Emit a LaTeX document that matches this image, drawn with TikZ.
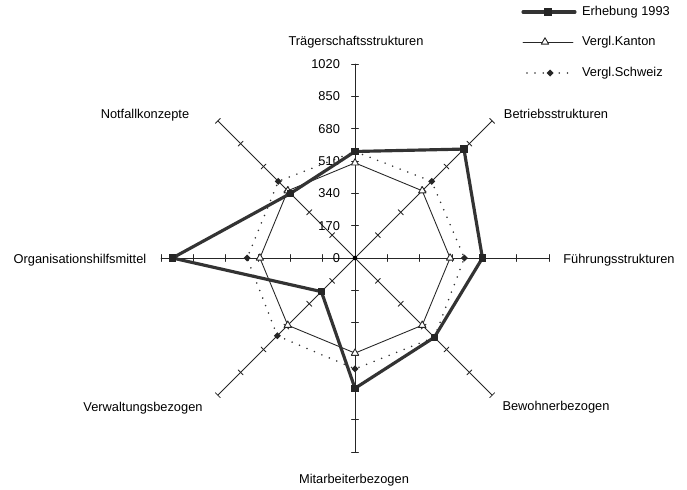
\documentclass[tikz,border=0pt]{standalone}
\usepackage{fontspec}
\setmainfont{Liberation Sans}
\usetikzlibrary{positioning}
\begin{document}
\begin{tikzpicture}[line join=round,line cap=round,font=\fontsize{7.3}{9}\selectfont,
	axis/.style={line width=0.5pt,black!85},
	erheb/.style={line width=1.8pt,black!80},
	kanton/.style={line width=0.5pt,black!85},
	schweiz/.style={line width=1pt,black!80,dash pattern=on 0pt off 4.6pt},
	lbl/.style={inner sep=1pt}]
	\useasboundingbox (-7.10,-4.62) rectangle (6.64,5.16);
	% axes with ticks
	\foreach \g in {90,45,...,-225}{
		\draw[axis] (0,0) -- (\g:3.88);
		\foreach \r in {1,...,6}
			\draw[axis] (\g:{\r*0.6467}) +(\g+90:0.07) -- +(\g-90:0.07);
	}
	\fill (0,0) circle (1.3pt);
	\foreach \l [count=\r from 0] in {0,170,340,510,680,850,1020}
		\node[lbl,anchor=east] (v\l) at (-0.26,{\r*0.6467}) {\l};
	% data
	\foreach \v [count=\i from 0] in {560,810,670,590,685,250,960,480}
		\coordinate (e\i) at ({90-45*\i}:{\v/1020*3.88});
	\foreach \v [count=\i from 0] in {500,500,500,500,500,500,500,500}
		\coordinate (k\i) at ({90-45*\i}:{\v/1020*3.88});
	\foreach \v [count=\i from 0] in {560,570,575,590,583,578,567,570}
		\coordinate (s\i) at ({90-45*\i}:{\v/1020*3.88});
	\draw[kanton] (k0) \foreach \i in {1,...,7}{-- (k\i)} -- cycle;
	\draw[schweiz] (s0) \foreach \i in {1,...,7}{-- (s\i)} -- cycle;
	\draw[erheb] (e0) \foreach \i in {1,...,7}{-- (e\i)} -- cycle;
	\foreach \i in {0,...,7}{
		\draw[kanton,fill=white] (k\i) +(90:0.085) -- +(210:0.085) -- +(330:0.085) -- cycle;
		\fill[black!85] (s\i) +(0:0.07) -- +(90:0.07) -- +(180:0.07) -- +(270:0.07) -- cycle;
		\fill[black!85] (e\i) +(-0.075,-0.075) rectangle +(0.075,0.075);
	}
	% axis labels
	\node[lbl] (traeger) at (0.02,4.32) {Trägerschaftsstrukturen};
	\node[lbl] (betrieb) at (4.02,2.88) {Betriebsstrukturen};
	\node[lbl] (fuehrung) at (5.28,-0.04) {Führungsstrukturen};
	\node[lbl] (bewohner) at (4.02,-2.98) {Bewohnerbezogen};
	\node[lbl] (mitarb) at (-0.02,-4.44) {Mitarbeiterbezogen};
	\node[lbl] (verwalt) at (-4.24,-3.0) {Verwaltungsbezogen};
	\node[lbl] (organis) at (-5.5,-0.04) {Organisationshilfsmittel};
	\node[lbl] (notfall) at (-4.2,2.86) {Notfallkonzepte};
	% legend
	\node[lbl,anchor=west] (lerh) at (4.5,4.92) {Erhebung 1993};
	\node[lbl,anchor=west] (lkan) at (4.5,4.32) {Vergl.Kanton};
	\node[lbl,anchor=west] (lsch) at (4.5,3.70) {Vergl.Schweiz};
	\draw[erheb] ([xshift=-1.14cm]lerh.west) -- ([xshift=-0.1cm]lerh.west);
	\fill[black!85] ([xshift=-0.64cm]lerh.west) +(-0.075,-0.075) rectangle +(0.075,0.075);
	\draw[kanton] ([xshift=-1.14cm]lkan.west) -- ([xshift=-0.14cm]lkan.west);
	\draw[kanton,fill=white] ([xshift=-0.7cm]lkan.west) +(90:0.085) -- +(210:0.085) -- +(330:0.085) -- cycle;
	\draw[schweiz] ([xshift=-1.06cm]lsch.west) -- ([xshift=-0.14cm]lsch.west);
	\fill[black!85] ([xshift=-0.6cm]lsch.west) +(0:0.07) -- +(90:0.07) -- +(180:0.07) -- +(270:0.07) -- cycle;
\end{tikzpicture}
\end{document}
